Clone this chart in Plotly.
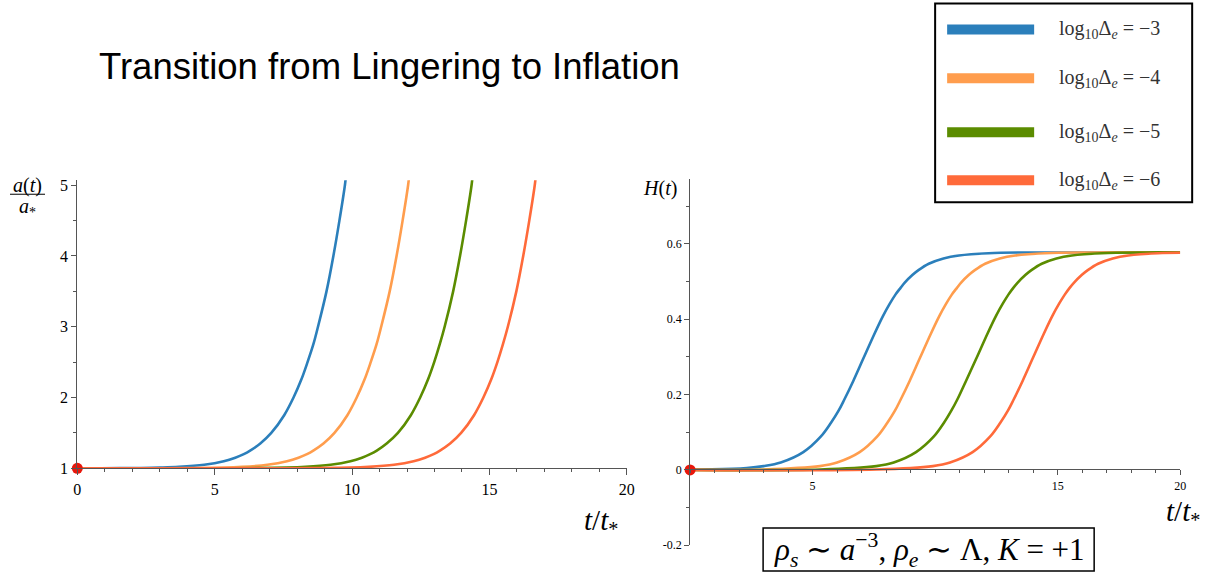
import plotly.graph_objects as go

# --- data ---
log_delta = [-3, -4, -5, -6]

# a(t)/a_* (left panel)
a_t_blue = [0, 0.88, 2.31, 3.00, 3.70, 4.62, 5.33, 5.75, 6.06, 6.29, 6.66, 7.06, 7.53, 7.87, 8.15, 8.38,
            8.59, 8.76, 9.07, 9.32, 9.54, 9.74, 9.77]
a_blue = [1, 1.001, 1.005, 1.01, 1.02, 1.05, 1.1, 1.15, 1.2, 1.25, 1.35, 1.5, 1.75, 2.0, 2.25, 2.5,
          2.75, 3.0, 3.5, 4.0, 4.5, 5.0, 5.1]
a_t_orange = [0, 3.00, 5.30, 6.00, 6.92, 7.63, 8.05, 8.36, 8.59, 8.96, 9.36, 9.83, 10.17, 10.45, 10.68,
              10.89, 11.06, 11.37, 11.62, 11.84, 12.04, 12.07]
a_orange = [1, 1.001, 1.01, 1.02, 1.05, 1.1, 1.15, 1.2, 1.25, 1.35, 1.5, 1.75, 2.0, 2.25, 2.5,
            2.75, 3.0, 3.5, 4.0, 4.5, 5.0, 5.1]
a_t_green = [0, 5.30, 7.60, 8.31, 9.22, 9.94, 10.36, 10.66, 10.90, 11.26, 11.67, 12.14, 12.48, 12.76, 12.99,
             13.19, 13.37, 13.68, 13.93, 14.15, 14.35, 14.38]
a_green = [1, 1.001, 1.01, 1.02, 1.05, 1.1, 1.15, 1.2, 1.25, 1.35, 1.5, 1.75, 2.0, 2.25, 2.5,
           2.75, 3.0, 3.5, 4.0, 4.5, 5.0, 5.1]
a_t_red = [0, 7.60, 9.91, 10.61, 11.53, 12.24, 12.66, 12.97, 13.20, 13.57, 13.97, 14.44, 14.78, 15.06, 15.29,
           15.49, 15.67, 15.98, 16.23, 16.45, 16.65, 16.68]
a_red = [1, 1.001, 1.01, 1.02, 1.05, 1.1, 1.15, 1.2, 1.25, 1.35, 1.5, 1.75, 2.0, 2.25, 2.5,
         2.75, 3.0, 3.5, 4.0, 4.5, 5.0, 5.1]

# H(t) (right panel)
h_t_blue = [0, 0.88, 2.31, 3.00, 3.70, 4.62, 5.33, 5.75, 6.06, 6.29, 6.66, 7.06, 7.53, 7.87, 8.15, 8.38,
            8.59, 8.76, 9.07, 9.32, 9.74, 10.34, 10.97, 12.18, 14.0, 20.0]
h_blue = [0.001, 0.0014, 0.005, 0.010, 0.0195, 0.047, 0.088, 0.125, 0.157, 0.186, 0.236, 0.294, 0.362, 0.408,
          0.441, 0.465, 0.483, 0.497, 0.517, 0.530, 0.547, 0.561, 0.569, 0.575, 0.577, 0.577]
h_t_orange = [0, 3.00, 5.30, 6.00, 6.92, 7.63, 8.05, 8.36, 8.59, 8.96, 9.36, 9.83, 10.17, 10.45, 10.68,
              10.89, 11.06, 11.37, 11.62, 12.04, 12.64, 13.27, 14.48, 16.3, 20.0]
h_orange = [0.0001, 0.001, 0.010, 0.0195, 0.047, 0.088, 0.125, 0.157, 0.186, 0.236, 0.294, 0.362, 0.408,
            0.441, 0.465, 0.483, 0.497, 0.517, 0.530, 0.547, 0.561, 0.569, 0.575, 0.577, 0.577]
h_t_green = [0, 5.30, 7.60, 8.31, 9.22, 9.94, 10.36, 10.66, 10.90, 11.26, 11.67, 12.14, 12.48, 12.76, 12.99,
             13.19, 13.37, 13.68, 13.93, 14.35, 14.95, 15.58, 16.79, 18.6, 20.0]
h_green = [0, 0.001, 0.010, 0.0195, 0.047, 0.088, 0.125, 0.157, 0.186, 0.236, 0.294, 0.362, 0.408,
           0.441, 0.465, 0.483, 0.497, 0.517, 0.530, 0.547, 0.561, 0.569, 0.575, 0.577, 0.577]
h_t_red = [0, 7.60, 9.91, 10.61, 11.53, 12.24, 12.66, 12.97, 13.20, 13.57, 13.97, 14.44, 14.78, 15.06, 15.29,
           15.49, 15.67, 15.98, 16.23, 16.65, 17.25, 17.88, 19.09, 20.0]
h_red = [0, 0.001, 0.010, 0.0195, 0.047, 0.088, 0.125, 0.157, 0.186, 0.236, 0.294, 0.362, 0.408,
         0.441, 0.465, 0.483, 0.497, 0.517, 0.530, 0.547, 0.561, 0.569, 0.575, 0.576]

start_point_left = (0, 1)
start_point_right = (0, 0)

colors = ["#2b7fbb", "#ff9d4d", "#5b8c00", "#ff6a3a"]
dot_color = "#e8170b"
serif = "Liberation Serif, Times New Roman, serif"

W, H = 1217, 577
# the photographed page comes out slightly shrunk and shifted; place things so they land right
SX, OX, SY, OY = 0.99, 4.0, 0.98, 2.6


def px(x):
    return (x - OX) / SX / W


def py(y):
    return 1 - (y - OY) / SY / H


fig = go.Figure()

a_series = [(a_t_blue, a_blue), (a_t_orange, a_orange), (a_t_green, a_green), (a_t_red, a_red)]
h_series = [(h_t_blue, h_blue), (h_t_orange, h_orange), (h_t_green, h_green), (h_t_red, h_red)]

for (t, a), c in zip(a_series, colors):
    fig.add_trace(go.Scatter(x=t, y=a, mode="lines", line=dict(color=c, width=2.6, shape="spline"),
                             xaxis="x", yaxis="y", showlegend=False, hoverinfo="skip"))
for (t, h), c in zip(h_series, colors):
    fig.add_trace(go.Scatter(x=t, y=h, mode="lines", line=dict(color=c, width=2.6, shape="spline"),
                             xaxis="x2", yaxis="y2", showlegend=False, hoverinfo="skip"))

for (x0, y0), xa, ya in [(start_point_left, "x", "y"), (start_point_right, "x2", "y2")]:
    fig.add_trace(go.Scatter(x=[x0], y=[y0], mode="markers",
                             marker=dict(color=dot_color, size=11, line=dict(width=0)), cliponaxis=False,
                             xaxis=xa, yaxis=ya, showlegend=False, hoverinfo="skip"))

axis_col = "#555555"
common = dict(showgrid=False, zeroline=False, showline=True, linecolor=axis_col, linewidth=1,
              ticks="outside", tickcolor=axis_col, tickwidth=1)

fig.update_layout(
    width=W, height=H, margin=dict(l=0, r=0, t=0, b=0),
    paper_bgcolor="white", plot_bgcolor="white",
    xaxis=dict(domain=[px(77.3), px(626.7)], range=[0, 20], anchor="y",
               tickvals=[0, 5, 10, 15, 20], ticklen=6,
               tickfont=dict(family=serif, size=16, color="black"),
               minor=dict(tickmode="linear", tick0=0, dtick=1, ticklen=3, ticks="outside",
                          tickcolor=axis_col),
               **common),
    yaxis=dict(domain=[py(468.3), py(180)], range=[1, 5.07], anchor="x",
               tickvals=[1, 2, 3, 4, 5], ticklen=5,
               tickfont=dict(family=serif, size=16, color="black"),
               minor=dict(tickmode="linear", tick0=1, dtick=0.5, ticklen=3, ticks="outside",
                          tickcolor=axis_col),
               **common),
    xaxis2=dict(domain=[px(690), px(1180)], range=[0, 20], anchor="free", position=py(469.3),
                tickvals=[5, 15, 20], ticklen=5,
                tickfont=dict(family=serif, size=12, color="black"),
                minor=dict(tickmode="linear", tick0=0, dtick=1, ticklen=3, ticks="outside",
                           tickcolor=axis_col),
                **common),
    yaxis2=dict(domain=[py(545.3), py(178.3)], range=[-0.2, 0.773], anchor="x2",
                tickvals=[-0.2, 0, 0.2, 0.4, 0.6], ticktext=["-0.2", "0", "0.2", "0.4", "0.6"],
                ticklen=5,
                tickfont=dict(family=serif, size=12, color="black"),
                minor=dict(tickmode="linear", tick0=0, dtick=0.1, ticklen=3, ticks="outside",
                           tickcolor=axis_col),
                **common),
)

annotations = [
    dict(text="Transition from Lingering to Inflation", x=px(97), y=py(66), xanchor="left",
         yanchor="middle", font=dict(family="Liberation Sans, Arial, sans-serif", size=36.5, color="black")),
    dict(text="<i>a</i>(<i>t</i>)", x=px(27.5), y=py(185), xanchor="center", yanchor="middle",
         font=dict(family=serif, size=20, color="black")),
    dict(text="<i>a</i><sub>*</sub>", x=px(27.5), y=py(207), xanchor="center", yanchor="middle",
         font=dict(family=serif, size=20, color="black")),
    dict(text="<i>H</i>(<i>t</i>)", x=px(679), y=py(188), xanchor="right", yanchor="middle",
         font=dict(family=serif, size=20, color="black")),
    dict(text="<i>t</i>/<i>t</i><sub>*</sub>", x=px(601), y=py(522), xanchor="center", yanchor="middle",
         font=dict(family=serif, size=29, color="black")),
    dict(text="<i>t</i>/<i>t</i><sub>*</sub>", x=px(1183), y=py(513), xanchor="center", yanchor="middle",
         font=dict(family=serif, size=29, color="black")),
    dict(text="<i>ρ</i><sub><i>s</i></sub> ∼ <i>a</i><sup>−3</sup>, <i>ρ</i><sub><i>e</i></sub> ∼ Λ, "
              "<i>K</i> = +1",
         x=px(929), y=py(550), xanchor="center", yanchor="middle",
         font=dict(family=serif, size=31, color="black")),
]

shapes = [
    # fraction bar of a(t)/a_*
    dict(type="line", xref="paper", yref="paper", x0=px(10), x1=px(45), y0=py(194), y1=py(194),
         line=dict(color="black", width=1)),
    # box around the model text
    dict(type="rect", xref="paper", yref="paper", x0=px(763), x1=px(1094), y0=py(528), y1=py(571),
         line=dict(color="black", width=1.5)),
    # legend frame
    dict(type="rect", xref="paper", yref="paper", x0=px(935), x1=px(1192), y0=py(3), y1=py(202),
         line=dict(color="black", width=2)),
]

legend_rows = [29, 78, 132, 180]
for ld, c, yy in zip(log_delta, colors, legend_rows):
    shapes.append(dict(type="line", xref="paper", yref="paper", x0=px(947), x1=px(1034),
                       y0=py(yy), y1=py(yy), line=dict(color=c, width=10)))
    annotations.append(dict(text=f"log<sub>10</sub>Δ<sub><i>e</i></sub> = −{abs(ld)}",
                            x=px(1057), y=py(yy), xanchor="left", yanchor="middle",
                            font=dict(family=serif, size=20, color="#333333")))

for an in annotations:
    an.update(xref="paper", yref="paper", showarrow=False)

fig.update_layout(annotations=annotations, shapes=shapes)

fig.write_html(
    "out.html",
    config={"displayModeBar": False},
    post_script="document.body.style.margin='0px';"
                "document.body.style.overflow='hidden';"
                "document.documentElement.style.overflow='hidden';",
)
